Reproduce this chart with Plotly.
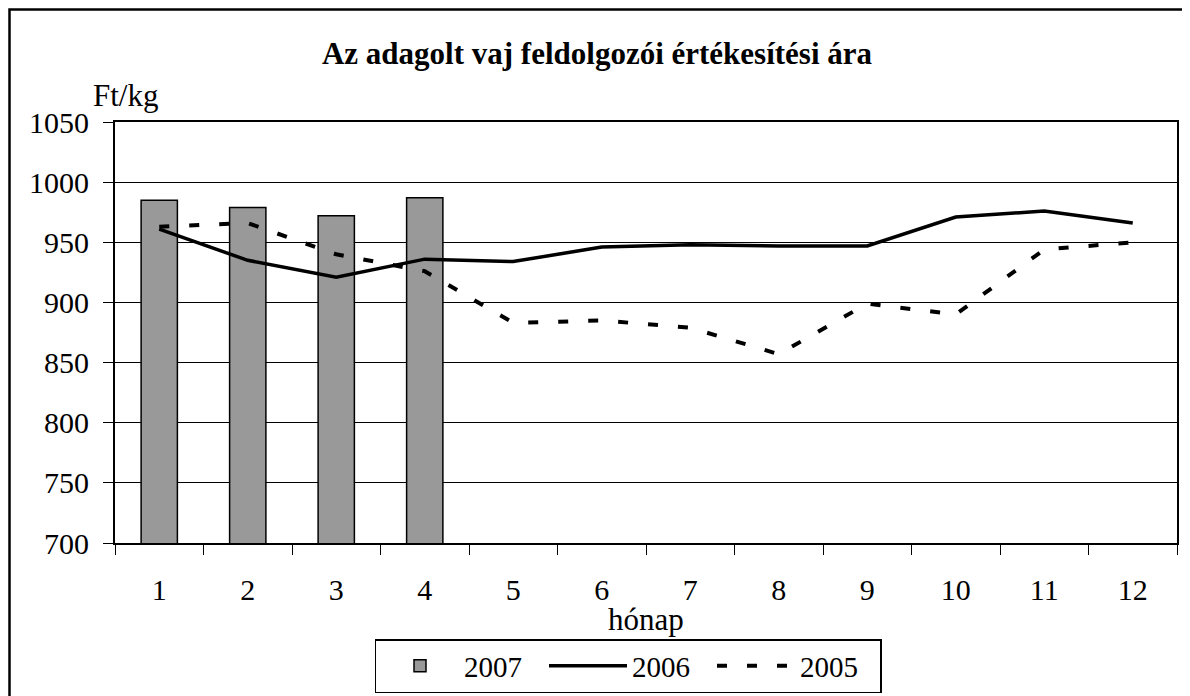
import plotly.graph_objects as go

# -----------------------------------------------------
# Data (Ft/kg)
# -----------------------------------------------------

months = ["1", "2", "3", "4", "5", "6", "7", "8", "9", "10", "11", "12"]

price_2007 = [985, 979, 972, 987]
price_2006 = [961, 935, 921, 936, 934, 946, 948, 947, 947, 971, 976, 966]
price_2005 = [963, 966, 940, 926, 883, 885, 879, 857, 899, 890, 944, 950]

y_ticks = [700, 750, 800, 850, 900, 950, 1000, 1050]

FONT = "Liberation Serif, Times New Roman, serif"

# page places the figure 8px in from the top-left corner (body margin)
W, H = 1182, 688
L, R, T, B = 107, 13, 114, 153
PW, PH = W - L - R, H - T - B


def px(x):
    # page x (pixels) -> paper x
    return (x - 8 - L) / PW


def py(y):
    # page y (pixels) -> paper y
    return (H - B + 8 - y) / PH


fig = go.Figure()

fig.add_trace(
    go.Bar(
        x=months[:len(price_2007)],
        y=price_2007,
        name="2007",
        width=0.41,
        marker=dict(color="#999999", line=dict(color="black", width=1.5)),
    )
)

fig.add_trace(
    go.Scatter(
        x=months,
        y=price_2006,
        name="2006",
        mode="lines",
        line=dict(color="black", width=3.5),
    )
)

fig.add_trace(
    go.Scatter(
        x=months,
        y=price_2005,
        name="2005",
        mode="lines",
        line=dict(color="black", width=4, dash="10px,20px"),
    )
)

# -----------------------------------------------------
# Layout
# -----------------------------------------------------

fig.update_layout(
    width=W,
    height=H,
    margin=dict(l=L, r=R, t=T, b=B, autoexpand=False),
    paper_bgcolor="white",
    plot_bgcolor="white",
    font=dict(family=FONT, size=28, color="black"),
    title=dict(
        text="<b>Az adagolt vaj feldolgozói értékesítési ára</b>",
        x=(597 - 8) / W,
        xanchor="center",
        y=1 - (53 - 8) / H,
        yanchor="middle",
        font=dict(family=FONT, size=31, color="black"),
    ),
    showlegend=True,
    legend=dict(
        orientation="h",
        xref="container",
        yref="container",
        x=(628 - 8) / W,
        xanchor="center",
        y=1 - (639 - 8) / H,
        yanchor="top",
        bordercolor="black",
        borderwidth=1.5,
        bgcolor="white",
        font=dict(family=FONT, size=29),
        traceorder="normal",
        itemwidth=78,
        entrywidth=75,
    ),
)

fig.update_xaxes(
    type="category",
    categoryorder="array",
    categoryarray=months,
    range=[-0.5, len(months) - 0.5],
    tickson="boundaries",
    ticks="outside",
    ticklen=10,
    tickwidth=1,
    tickcolor="black",
    showgrid=False,
    showline=True,
    linecolor="black",
    linewidth=2,
    mirror=True,
    automargin=False,
    ticklabelstandoff=19,
    tickfont=dict(family=FONT, size=30),
)

fig.update_yaxes(
    range=[700, 1050],
    tickvals=y_ticks,
    ticks="outside",
    ticklen=10,
    tickwidth=1,
    tickcolor="black",
    showgrid=True,
    gridcolor="black",
    gridwidth=1,
    showline=True,
    linecolor="black",
    linewidth=2,
    mirror=True,
    zeroline=False,
    automargin=False,
    ticklabelstandoff=8,
    tickfont=dict(family=FONT, size=30),
)

fig.add_annotation(
    text="Ft/kg", xref="paper", yref="paper",
    x=px(125), y=py(95), xanchor="center", yanchor="middle",
    showarrow=False, font=dict(family=FONT, size=31),
)

fig.add_annotation(
    text="hónap", xref="paper", yref="paper",
    x=0.5, y=py(619), xanchor="center", yanchor="middle",
    showarrow=False, font=dict(family=FONT, size=31),
)

# outer chart frame (only left/top edges fall inside the picture)
fig.add_shape(
    type="rect", xref="paper", yref="paper",
    x0=px(9.5), x1=px(1215),
    y0=py(715), y1=py(9.5),
    line=dict(color="black", width=2.5), layer="below",
)

fig.write_html("out.html")
